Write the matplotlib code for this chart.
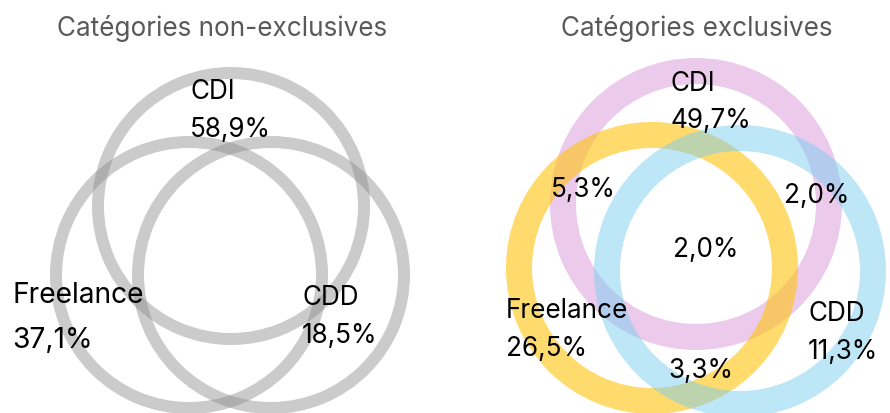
import matplotlib.pyplot as plt
from matplotlib.patches import Wedge

plt.rcParams['font.family'] = ['Inter', 'DejaVu Sans']

# Left diagram: non-exclusive shares
titles = ['Catégories non-exclusives', 'Catégories exclusives']
categories = ['CDI', 'Freelance', 'CDD']
shares_nonexcl = [58.9, 37.1, 18.5]

# Right diagram: exclusive shares and overlaps
shares_excl = [49.7, 26.5, 11.3]
overlap_labels = ['CDI ∩ Freelance', 'CDI ∩ CDD', 'CDI ∩ Freelance ∩ CDD', 'Freelance ∩ CDD']
overlap_values = [5.3, 2.0, 2.0, 3.3]


def pct(v):
    return f"{v:.1f}".replace('.', ',') + '%'


W, H = 890, 414
fig = plt.figure(figsize=(W / 100, H / 100), dpi=100)
ax = fig.add_axes([0, 0, 1, 1])
ax.set_xlim(0, W)
ax.set_ylim(H, 0)
ax.set_aspect('equal')
ax.axis('off')


def ring(cx, cy, r, width, color, alpha):
    ax.add_patch(Wedge((cx, cy), r, 0, 360, width=width, facecolor=color,
                       edgecolor='none', alpha=alpha, zorder=1))


# grey rings (CDI, Freelance, CDD)
left_centres = [(231, 207), (189, 276), (271, 276)]
for cx, cy in left_centres:
    ring(cx, cy, 139, 12, '#8c8c8c', 0.45)

# coloured rings
right_centres = [(696, 205), (652, 269), (740, 272)]
right_colors = [('#DA97DA', 0.5), ('#FFC414', 0.62), ('#7CCEF0', 0.5)]
for (cx, cy), (col, a) in zip(right_centres, right_colors):
    ring(cx, cy, 146, 26, col, a)

# titles
ax.text(222, 36, titles[0], ha='center', va='baseline', fontsize=18.8, color='#595959')
ax.text(697, 36, titles[1], ha='center', va='baseline', fontsize=18.8, color='#595959')

fs = 18.8
txt = dict(ha='left', va='baseline', color='black', zorder=3)

# left labels
left_pos = [((190, 99), (190, 137), fs), ((12, 303), (12, 348), fs * 1.08), ((302, 305), (302, 343), fs)]
for name, v, (p1, p2, size) in zip(categories, shares_nonexcl, left_pos):
    ax.text(*p1, name, fontsize=size, **txt)
    ax.text(*p2, pct(v), fontsize=size, **txt)

# right labels
right_pos = [((670, 91), (670, 128)), ((506, 318), (506, 356)), ((808, 321), (808, 359))]
for name, v, (p1, p2) in zip(categories, shares_excl, right_pos):
    ax.text(*p1, name, fontsize=fs, **txt)
    ax.text(*p2, pct(v), fontsize=fs, **txt)

overlap_pos = [(551, 197), (784, 203), (673, 257), (668, 378)]
for v, p in zip(overlap_values, overlap_pos):
    ax.text(*p, pct(v), fontsize=fs, **txt)

fig.savefig('out.png', dpi=100, facecolor='white')
